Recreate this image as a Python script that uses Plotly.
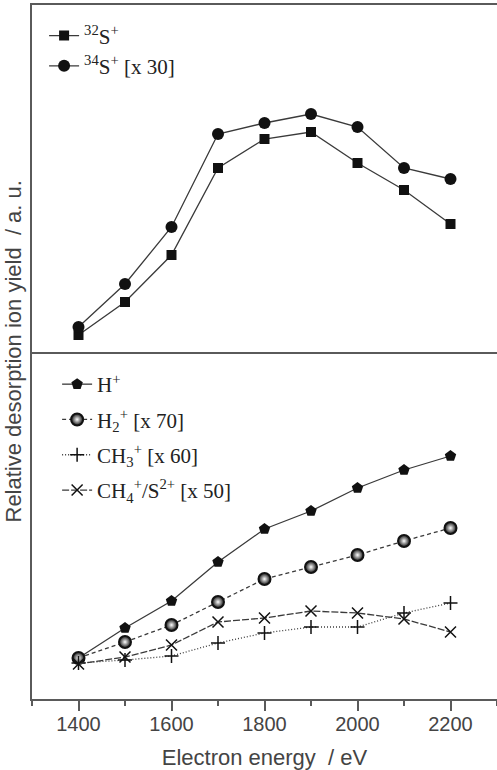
import plotly.graph_objects as go

energy = [1400, 1500, 1600, 1700, 1800, 1900, 2000, 2100, 2200]

# top panel (a.u.)
s32 = [17, 50, 97, 184, 213, 220, 189, 162, 128]
s34_x30 = [25, 68, 125, 218, 229, 238, 225, 184, 173]

# bottom panel (a.u.)
h_plus = [41, 71, 98, 137, 170, 188, 211, 229, 243]
h2_x70 = [41, 57, 74, 97, 120, 132, 144, 158, 171]
ch3_x60 = [36, 39, 43, 56, 66, 72, 72, 86, 96]
ch4_x50 = [35, 42, 54, 77, 81, 88, 86, 80, 67]

xticks = [1400, 1600, 1800, 2000, 2200]

LC = "#3a3a3a"
MC = "#111111"
AX = "#5a5a5a"
TXT = "#444444"
SANS = "Liberation Sans, Arial, sans-serif"

fig = go.Figure()

def add(y, name, yaxis, legend, symbol, size, dash, mcolor=MC, mline=0, grad=None):
    marker = dict(symbol=symbol, size=size, color=mcolor,
                  line=dict(color=MC, width=mline))
    if grad:
        marker["gradient"] = dict(type="radial", color=grad)
    fig.add_trace(go.Scatter(
        x=energy, y=y, name=name, mode="lines+markers",
        xaxis="x" if yaxis == "y" else "x2", yaxis=yaxis,
        line=dict(color=LC, width=1.3, dash=dash),
        marker=marker, legend=legend, legendgroup=name,
    ))

add(s32, "<sup>32</sup>S<sup>+</sup>", "y2", "legend", "square", 10, "solid")
add(s34_x30, "<sup>34</sup>S<sup>+</sup> [x 30]", "y2", "legend", "circle", 12, "solid")

add(h_plus, "H<sup>+</sup>", "y", "legend2", "pentagon", 12, "solid")
add(h2_x70, "H<sub>2</sub><sup>+</sup> [x 70]", "y", "legend2", "circle", 12, "4px,3px",
    mcolor=MC, mline=2, grad="#ffffff")
add(ch3_x60, "CH<sub>3</sub><sup>+</sup> [x 60]", "y", "legend2", "cross-thin", 10, "1px,2px",
    mline=1.5)
add(ch4_x50, "CH<sub>4</sub><sup>+</sup>/S<sup>2+</sup> [x 50]", "y", "legend2", "x-thin", 11,
    "7px,2px", mline=1.5)

legend_font = dict(family="Liberation Serif, Times New Roman, serif", size=21, color="#222")

fig.update_layout(
    width=497, height=770,
    margin=dict(l=32, r=0, t=5, b=71),
    plot_bgcolor="white", paper_bgcolor="white",
    showlegend=True,
    legend=dict(x=0.026, y=0.985, xanchor="left", yanchor="top", font=legend_font,
                bgcolor="rgba(0,0,0,0)", tracegroupgap=0, itemwidth=30),
    legend2=dict(x=0.054, y=0.4827, xanchor="left", yanchor="top", font=legend_font,
                 bgcolor="rgba(0,0,0,0)", tracegroupgap=5, itemwidth=30),
    xaxis=dict(domain=[0, 1], range=[1300, 2300], anchor="y",
               showline=True, linecolor=AX, linewidth=1.5,
               ticks="outside", tickvals=xticks, ticklen=10, tickwidth=1.5, tickcolor=AX,
               ticklabelstandoff=-4,
               minor=dict(dtick=100, tick0=1300, ticks="outside", ticklen=5, tickwidth=1.5,
                          tickcolor=AX),
               showgrid=False, zeroline=False,
               tickfont=dict(family=SANS, size=20, color=TXT),
               title=dict(text="Electron energy\u00a0\u00a0/ eV", standoff=16,
                          font=dict(family=SANS, size=22, color=TXT))),
    xaxis2=dict(domain=[0, 1], range=[1300, 2300], anchor="y2", matches="x",
                showline=True, mirror=True, linecolor=AX, linewidth=1.5,
                showticklabels=False, ticks="", showgrid=False, zeroline=False),
    yaxis=dict(domain=[0, 0.5], range=[0, 347], showline=True, linecolor=AX, linewidth=1.5,
               showticklabels=False, ticks="", showgrid=False, zeroline=False),
    yaxis2=dict(domain=[0.5, 1], range=[0, 347], showline=True, linecolor=AX, linewidth=1.5,
                showticklabels=False, ticks="", showgrid=False, zeroline=False),
    annotations=[dict(text="Relative desorption ion yield\u00a0\u00a0/ a. u.", textangle=-90,
                      xref="paper", yref="paper", x=0, y=0.5, xanchor="right",
                      yanchor="middle", xshift=-5, showarrow=False,
                      font=dict(family=SANS, size=22, color=TXT))],
)

fig.write_html("out.html")
